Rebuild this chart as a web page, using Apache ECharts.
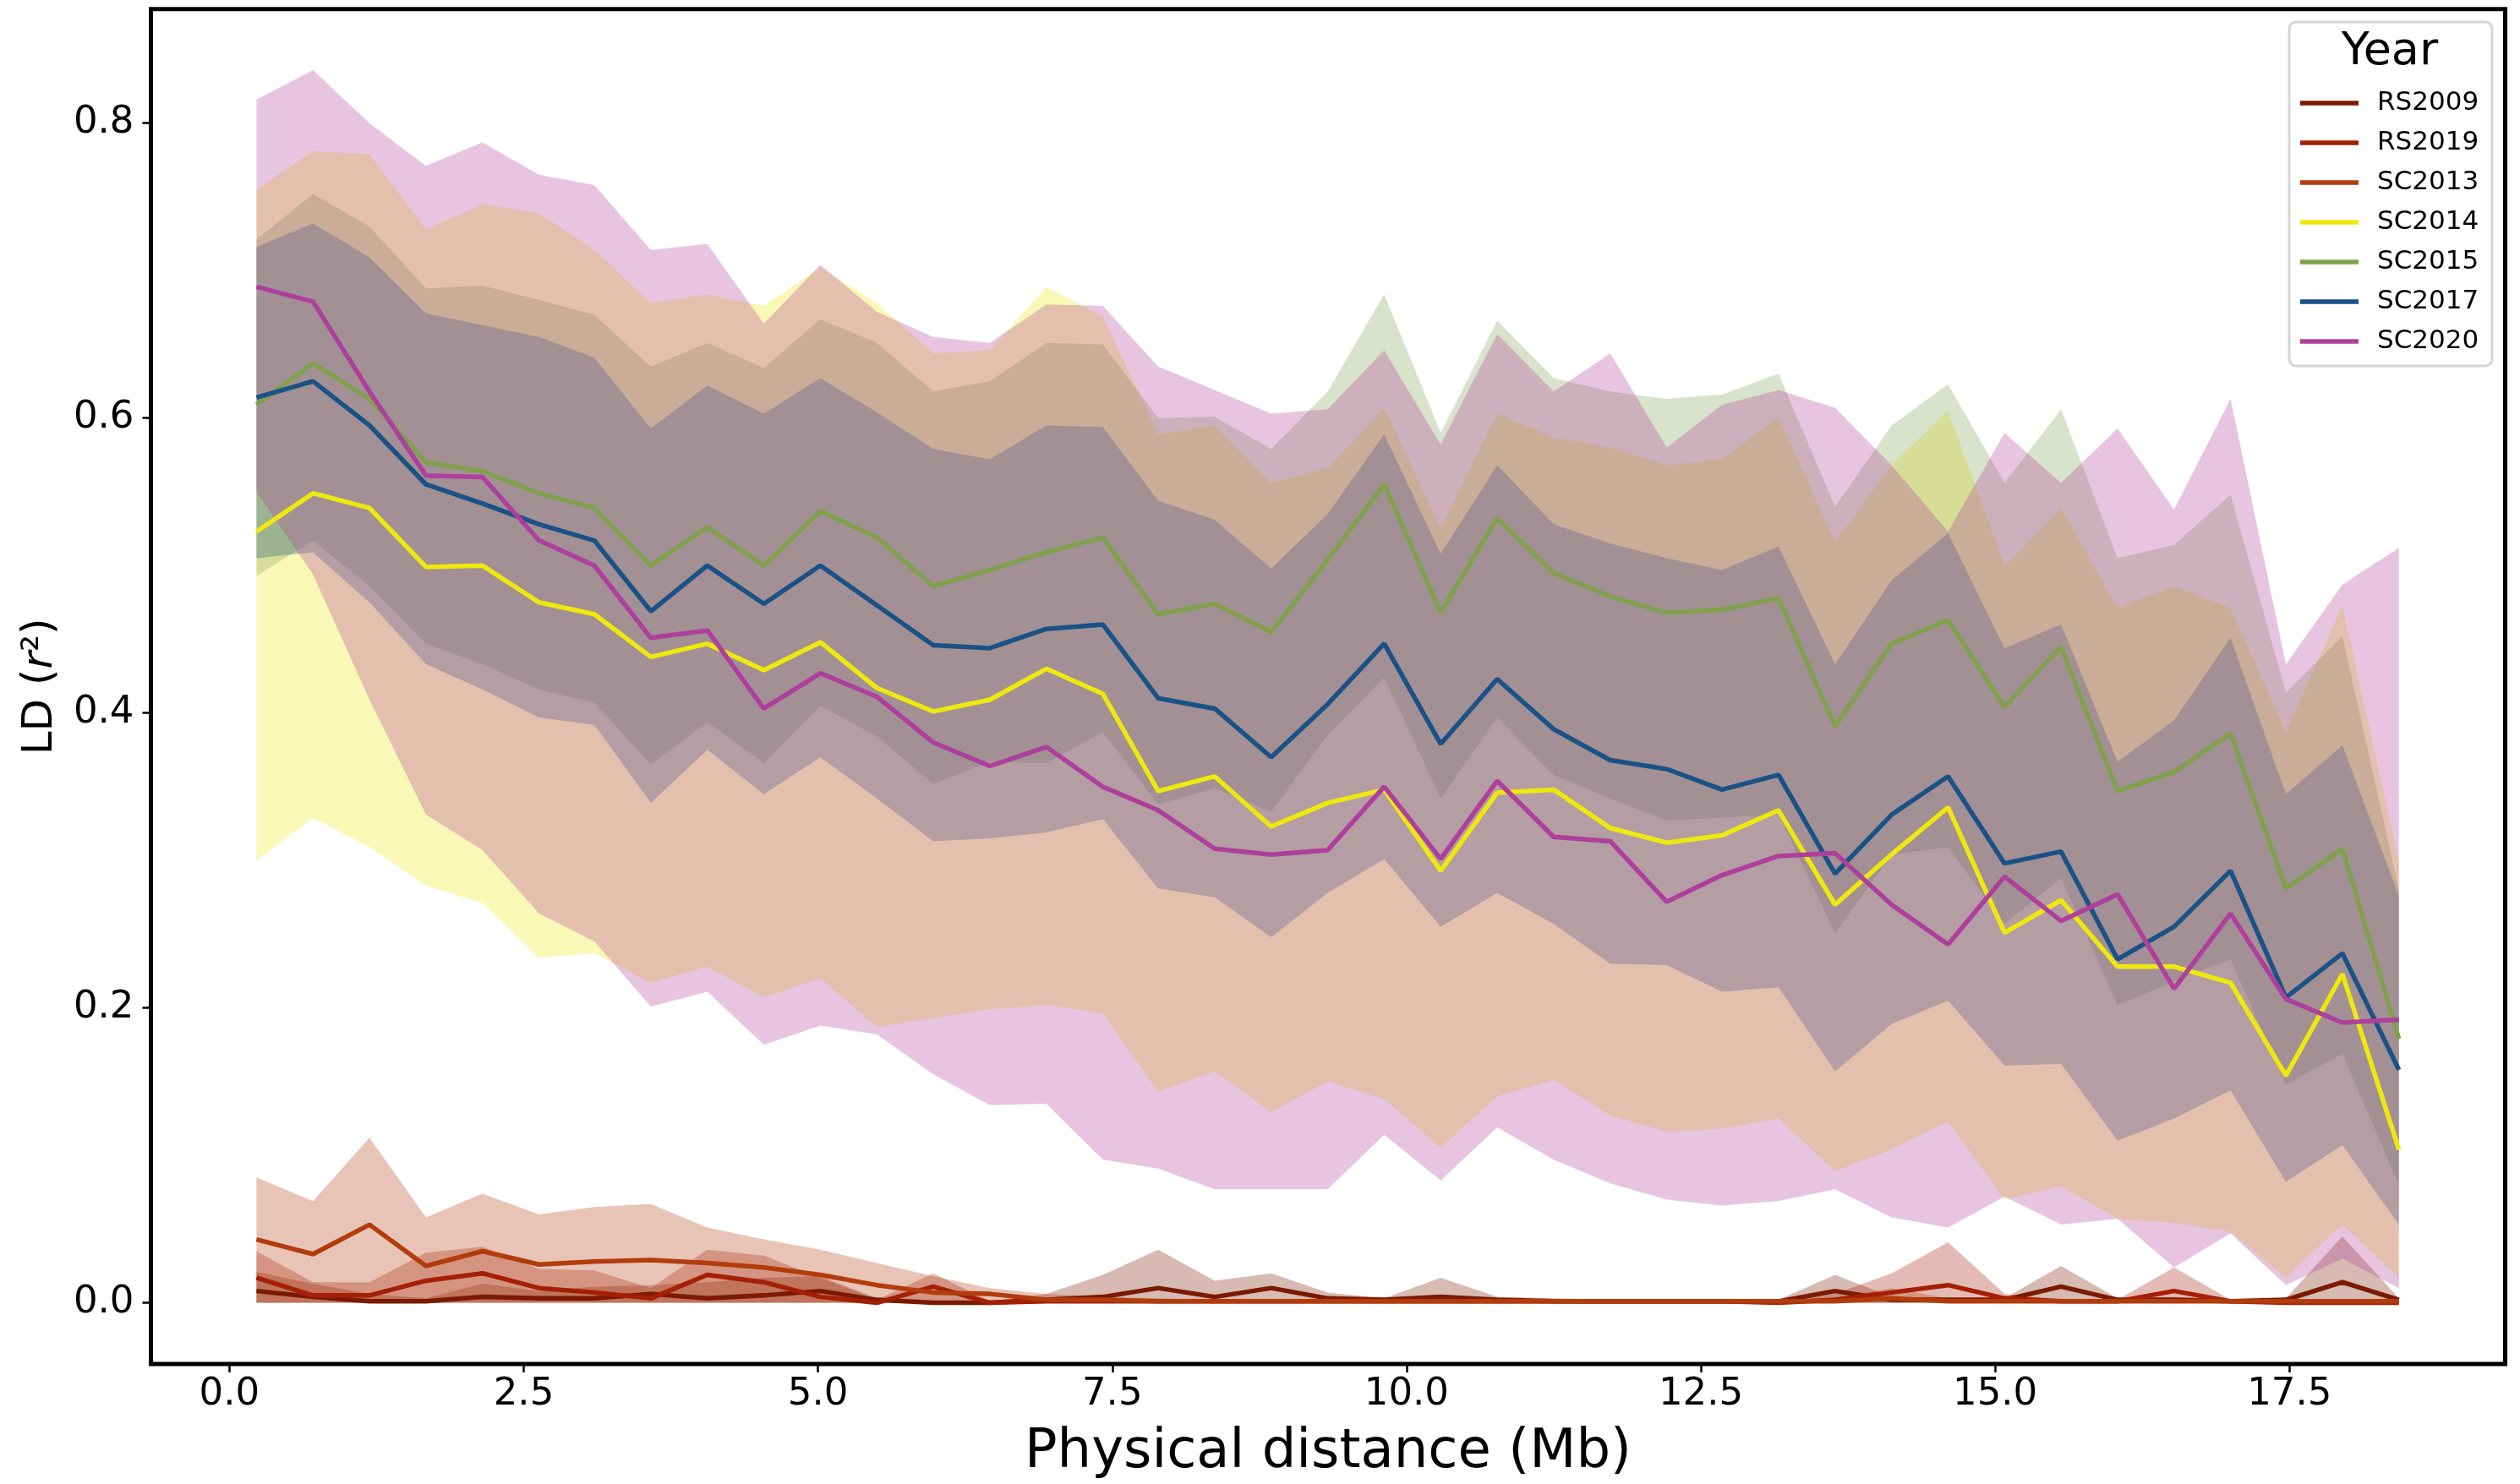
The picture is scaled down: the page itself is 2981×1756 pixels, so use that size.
<!DOCTYPE html>
<html>
<head>
<meta charset="utf-8">
<script src="https://cdn.jsdelivr.net/npm/echarts@6/dist/echarts.min.js"></script>
<style>
  html, body { margin: 0; padding: 0; background: #fff; }
  #chart { width: 2981px; height: 1756px; }
</style>
</head>
<body>
<div id="chart"></div>
<script>
// physical distance bins (Mb)
const distance = [0.23, 0.71, 1.19, 1.67, 2.15, 2.63, 3.10, 3.58, 4.06, 4.54,
  5.02, 5.50, 5.98, 6.46, 6.94, 7.42, 7.89, 8.37, 8.85, 9.33,
  9.81, 10.29, 10.77, 11.25, 11.73, 12.21, 12.68, 13.16, 13.64, 14.12,
  14.60, 15.08, 15.56, 16.04, 16.52, 17.00, 17.47, 17.95, 18.43];

const years = ["RS2009", "RS2019", "SC2013", "SC2014", "SC2015", "SC2017", "SC2020"];
const colors = ["#7b1a00", "#a51f05", "#b23c0c", "#efe80e", "#80a04e", "#1a5286", "#ae3f9c"];

const xTicks = [0, 2.5, 5, 7.5, 10, 12.5, 15, 17.5];
const yTicks = [0, 0.2, 0.4, 0.6, 0.8];

// mean LD (r2)
const rs2009Mean = [0.008, 0.004, 0.001, 0.001, 0.004, 0.003, 0.003, 0.006, 0.003, 0.005,
  0.008, 0.002, 0.000, 0.000, 0.002, 0.004, 0.010, 0.004, 0.010, 0.003,
  0.002, 0.004, 0.002, 0.001, 0.001, 0.001, 0.001, 0.001, 0.008, 0.002,
  0.002, 0.002, 0.011, 0.002, 0.002, 0.001, 0.002, 0.014, 0.002];
const rs2019Mean = [0.017, 0.005, 0.005, 0.015, 0.020, 0.010, 0.007, 0.003, 0.019, 0.014,
  0.004, 0.000, 0.011, 0.000, 0.001, 0.001, 0.001, 0.001, 0.001, 0.001,
  0.001, 0.001, 0.001, 0.001, 0.001, 0.001, 0.001, 0.000, 0.002, 0.007,
  0.012, 0.003, 0.001, 0.001, 0.008, 0.001, 0.000, 0.000, 0.000];
const sc2013Mean = [0.043, 0.033, 0.053, 0.025, 0.035, 0.026, 0.028, 0.029, 0.027, 0.024,
  0.019, 0.012, 0.007, 0.006, 0.002, 0.002, 0.001, 0.001, 0.001, 0.001,
  0.001, 0.001, 0.001, 0.001, 0.001, 0.001, 0.001, 0.001, 0.001, 0.003,
  0.001, 0.001, 0.001, 0.001, 0.001, 0.001, 0.001, 0.001, 0.001];
const sc2014Mean = [0.523, 0.549, 0.539, 0.499, 0.500, 0.475, 0.467, 0.438, 0.447, 0.429,
  0.448, 0.417, 0.401, 0.409, 0.430, 0.413, 0.347, 0.357, 0.323, 0.339,
  0.348, 0.293, 0.346, 0.348, 0.322, 0.312, 0.317, 0.334, 0.270, 0.304,
  0.336, 0.251, 0.273, 0.228, 0.228, 0.217, 0.154, 0.223, 0.104];
const sc2015Mean = [0.609, 0.637, 0.613, 0.570, 0.564, 0.549, 0.539, 0.500, 0.526, 0.500,
  0.537, 0.519, 0.486, 0.497, 0.509, 0.519, 0.467, 0.474, 0.455, 0.504,
  0.555, 0.468, 0.532, 0.495, 0.479, 0.468, 0.470, 0.478, 0.391, 0.447,
  0.463, 0.404, 0.445, 0.347, 0.360, 0.386, 0.281, 0.308, 0.179];
const sc2017Mean = [0.614, 0.625, 0.595, 0.555, 0.542, 0.528, 0.517, 0.469, 0.500, 0.474,
  0.500, 0.473, 0.446, 0.444, 0.457, 0.460, 0.410, 0.403, 0.370, 0.406,
  0.447, 0.379, 0.423, 0.389, 0.368, 0.362, 0.348, 0.358, 0.291, 0.331,
  0.357, 0.298, 0.306, 0.233, 0.255, 0.293, 0.207, 0.237, 0.158];
const sc2020Mean = [0.689, 0.679, 0.618, 0.561, 0.560, 0.517, 0.500, 0.451, 0.456, 0.403,
  0.427, 0.411, 0.380, 0.364, 0.377, 0.350, 0.334, 0.308, 0.304, 0.307,
  0.350, 0.301, 0.354, 0.316, 0.313, 0.272, 0.290, 0.303, 0.305, 0.270,
  0.243, 0.289, 0.259, 0.277, 0.213, 0.264, 0.206, 0.190, 0.192];

// shaded band limits
const zeroLo = [0, 0, 0, 0, 0, 0, 0, 0, 0, 0,
  0, 0, 0, 0, 0, 0, 0, 0, 0, 0,
  0, 0, 0, 0, 0, 0, 0, 0, 0, 0,
  0, 0, 0, 0, 0, 0, 0, 0, 0];
const rs2009Hi = [0.021, 0.013, 0.006, 0.003, 0.013, 0.008, 0.011, 0.012, 0.014, 0.017,
  0.018, 0.003, 0.001, 0.001, 0.006, 0.019, 0.036, 0.015, 0.020, 0.007,
  0.003, 0.017, 0.004, 0.003, 0.002, 0.001, 0.001, 0.002, 0.019, 0.004,
  0.003, 0.003, 0.025, 0.003, 0.004, 0.002, 0.003, 0.045, 0.003];
const rs2019Hi = [0.035, 0.014, 0.014, 0.034, 0.038, 0.023, 0.022, 0.010, 0.036, 0.032,
  0.017, 0.002, 0.020, 0.001, 0.003, 0.002, 0.001, 0.001, 0.001, 0.001,
  0.001, 0.001, 0.001, 0.001, 0.001, 0.001, 0.001, 0.002, 0.006, 0.020,
  0.041, 0.006, 0.002, 0.002, 0.024, 0.002, 0.001, 0.001, 0.001];
const sc2013Hi = [0.085, 0.069, 0.112, 0.058, 0.074, 0.060, 0.065, 0.067, 0.051, 0.043,
  0.036, 0.027, 0.018, 0.010, 0.006, 0.004, 0.003, 0.002, 0.002, 0.002,
  0.002, 0.002, 0.002, 0.002, 0.002, 0.002, 0.002, 0.002, 0.003, 0.010,
  0.003, 0.002, 0.002, 0.002, 0.002, 0.002, 0.002, 0.002, 0.002];
const sc2014Lo = [0.300, 0.329, 0.309, 0.283, 0.271, 0.234, 0.237, 0.217, 0.228, 0.207,
  0.220, 0.187, 0.193, 0.199, 0.202, 0.196, 0.143, 0.157, 0.129, 0.150,
  0.138, 0.105, 0.140, 0.151, 0.127, 0.116, 0.118, 0.125, 0.089, 0.104,
  0.123, 0.070, 0.079, 0.057, 0.054, 0.048, 0.017, 0.053, 0.017];
const sc2014Hi = [0.755, 0.781, 0.779, 0.728, 0.745, 0.739, 0.714, 0.678, 0.684, 0.676,
  0.702, 0.678, 0.644, 0.646, 0.689, 0.669, 0.589, 0.595, 0.556, 0.566,
  0.607, 0.525, 0.603, 0.587, 0.580, 0.568, 0.572, 0.601, 0.516, 0.568,
  0.605, 0.500, 0.539, 0.471, 0.486, 0.471, 0.387, 0.473, 0.300];
const sc2015Lo = [0.493, 0.517, 0.486, 0.447, 0.433, 0.416, 0.407, 0.365, 0.394, 0.366,
  0.405, 0.384, 0.352, 0.367, 0.366, 0.387, 0.338, 0.349, 0.333, 0.385,
  0.424, 0.342, 0.397, 0.358, 0.342, 0.327, 0.329, 0.331, 0.251, 0.304,
  0.309, 0.257, 0.288, 0.202, 0.218, 0.233, 0.148, 0.169, 0.080];
const sc2015Hi = [0.721, 0.752, 0.730, 0.688, 0.690, 0.680, 0.670, 0.635, 0.651, 0.634,
  0.667, 0.651, 0.618, 0.625, 0.651, 0.650, 0.600, 0.601, 0.579, 0.618,
  0.684, 0.590, 0.666, 0.627, 0.618, 0.613, 0.616, 0.630, 0.540, 0.595,
  0.623, 0.556, 0.606, 0.505, 0.514, 0.548, 0.414, 0.452, 0.280];
const sc2017Lo = [0.505, 0.509, 0.475, 0.433, 0.416, 0.397, 0.392, 0.339, 0.375, 0.345,
  0.370, 0.342, 0.313, 0.315, 0.319, 0.328, 0.281, 0.275, 0.248, 0.278,
  0.301, 0.255, 0.278, 0.257, 0.230, 0.229, 0.211, 0.214, 0.157, 0.189,
  0.205, 0.161, 0.162, 0.110, 0.125, 0.144, 0.082, 0.107, 0.053];
const sc2017Hi = [0.716, 0.732, 0.709, 0.671, 0.663, 0.655, 0.641, 0.593, 0.622, 0.603,
  0.627, 0.604, 0.579, 0.572, 0.595, 0.594, 0.544, 0.531, 0.498, 0.535,
  0.589, 0.508, 0.568, 0.528, 0.515, 0.505, 0.497, 0.513, 0.433, 0.490,
  0.522, 0.444, 0.460, 0.367, 0.395, 0.451, 0.345, 0.378, 0.276];
const sc2020Lo = [0.550, 0.494, 0.409, 0.331, 0.307, 0.264, 0.245, 0.201, 0.211, 0.175,
  0.188, 0.182, 0.155, 0.134, 0.135, 0.097, 0.091, 0.077, 0.077, 0.077,
  0.114, 0.083, 0.119, 0.097, 0.081, 0.070, 0.066, 0.069, 0.077, 0.058,
  0.051, 0.072, 0.053, 0.057, 0.024, 0.047, 0.012, 0.030, 0.010];
const sc2020Hi = [0.816, 0.836, 0.800, 0.771, 0.787, 0.765, 0.758, 0.714, 0.718, 0.664,
  0.704, 0.672, 0.655, 0.651, 0.677, 0.676, 0.635, 0.619, 0.603, 0.606,
  0.646, 0.582, 0.657, 0.618, 0.644, 0.580, 0.609, 0.619, 0.607, 0.568,
  0.523, 0.590, 0.556, 0.593, 0.538, 0.613, 0.433, 0.487, 0.512];

const means = [rs2009Mean, rs2019Mean, sc2013Mean, sc2014Mean, sc2015Mean, sc2017Mean, sc2020Mean];
const lows = [zeroLo, zeroLo, zeroLo, sc2014Lo, sc2015Lo, sc2017Lo, sc2020Lo];
const highs = [rs2009Hi, rs2019Hi, sc2013Hi, sc2014Hi, sc2015Hi, sc2017Hi, sc2020Hi];

const FONT = "DejaVu Sans";

// draw whole band as one polygon on the first item
function bandRender(params, api) {
  if (params.dataIndexInside !== 0) return;
  const n = params.dataInsideLength;
  const pts = [];
  for (let j = 0; j < n; j++) pts.push(api.coord([api.value(0, j), api.value(2, j)]));
  for (let j = n - 1; j >= 0; j--) pts.push(api.coord([api.value(0, j), api.value(1, j)]));
  return {
    type: "polygon",
    shape: { points: pts },
    style: { fill: api.visual("color"), opacity: 0.3 },
  };
}

const bandSeries = years.map((name, k) => ({
  type: "custom",
  name: name + " sd",
  silent: true,
  z: 1,
  itemStyle: { color: colors[k] },
  encode: { x: 0, y: [1, 2] },
  data: distance.map((d, i) => [d, lows[k][i], highs[k][i]]),
  renderItem: bandRender,
}));

const lineSeries = years.map((name, k) => ({
  type: "line",
  name: name,
  z: 3,
  showSymbol: false,
  symbol: "none",
  itemStyle: { color: colors[k] },
  lineStyle: { color: colors[k], width: 5.5 },
  data: distance.map((d, i) => [d, means[k][i]]),
}));

const myChart = echarts.init(document.getElementById("chart"));
myChart.setOption({
  animation: false,
  backgroundColor: "#fff",
  grid: {
    left: 178.5,
    right: 17.5,
    top: 10.7,
    bottom: 139.5,
    show: true,
    borderColor: "#000",
    borderWidth: 5,
    backgroundColor: "transparent",
  },
  xAxis: {
    type: "value",
    min: -0.667,
    max: 19.333,
    name: "Physical distance (Mb)",
    nameLocation: "middle",
    nameGap: 73,
    nameTextStyle: { fontSize: 64, fontFamily: FONT, color: "#000" },
    axisLine: { show: false, onZero: false },
    splitLine: { show: false },
    axisTick: { show: true, customValues: xTicks, length: 10, lineStyle: { color: "#000", width: 2.5 } },
    axisLabel: {
      customValues: xTicks,
      formatter: (v) => v.toFixed(1),
      fontSize: 45,
      fontFamily: FONT,
      color: "#000",
      margin: 14,
    },
  },
  yAxis: {
    type: "value",
    min: -0.0415,
    max: 0.8774,
    name: "LD ({it|r}²)",
    nameLocation: "middle",
    nameGap: 105,
    nameTextStyle: {
      fontSize: 50,
      fontFamily: FONT,
      color: "#000",
      rich: { it: { fontStyle: "italic", fontSize: 50, fontFamily: FONT, color: "#000" } },
    },
    axisLine: { show: false, onZero: false },
    splitLine: { show: false },
    axisTick: { show: true, customValues: yTicks, length: 10, lineStyle: { color: "#000", width: 2.5 } },
    axisLabel: {
      customValues: yTicks,
      formatter: (v) => v.toFixed(1),
      fontSize: 45,
      fontFamily: FONT,
      color: "#000",
      margin: 20,
    },
  },
  legend: {
    data: years,
    orient: "vertical",
    left: 2716,
    top: 101,
    z: 100,
    selectedMode: false,
    icon: "rect",
    itemWidth: 69,
    itemHeight: 5.5,
    itemGap: 15,
    textStyle: { fontSize: 31, fontFamily: FONT, color: "#000", lineHeight: 32, padding: [0, 0, 0, 17] },
  },
  graphic: [
    {
      type: "rect",
      z: 50,
      shape: { x: 2708, y: 26, width: 240, height: 407, r: 8 },
      style: { fill: "rgba(255,255,255,0.8)", stroke: "#d6d6d6", lineWidth: 3 },
    },
    {
      type: "text",
      z: 51,
      x: 2827,
      y: 62,
      style: { text: "Year", font: "54px 'DejaVu Sans'", fill: "#000", textAlign: "center", textVerticalAlign: "middle" },
    },
  ],
  series: bandSeries.concat(lineSeries),
});
</script>
</body>
</html>
